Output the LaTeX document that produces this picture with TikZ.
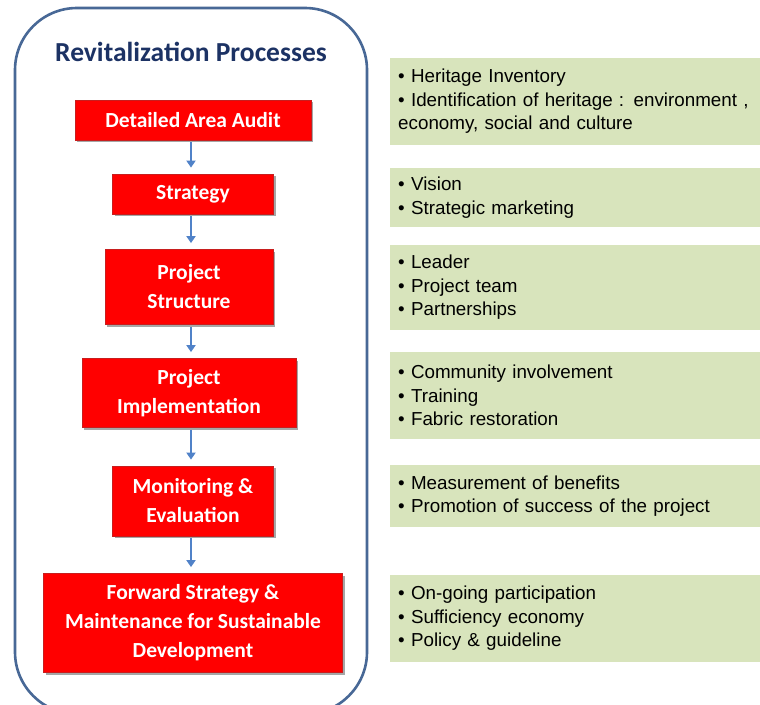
\documentclass[tikz,border=0pt]{standalone}
\usepackage{fontspec}
\setmainfont{Liberation Sans}
\newfontfamily\carlitofont{Carlito}
\usetikzlibrary{arrows.meta,shadows}
\definecolor{framec}{RGB}{72,104,150}
\definecolor{titlec}{RGB}{28,50,100}
\definecolor{redc}{RGB}{255,0,0}
\definecolor{redd}{RGB}{200,30,30}
\definecolor{greenc}{RGB}{216,228,188}
\definecolor{arrowc}{RGB}{80,130,200}
\begin{document}
\begin{tikzpicture}[x=1pt,y=-1pt,
  redbox/.style={draw=redd,line width=0.8pt,fill=redc,text=white,
    font=\carlitofont\bfseries\fontsize{21.5}{29}\selectfont,align=center,inner sep=0pt,
    drop shadow={shadow xshift=2pt,shadow yshift=-2pt,opacity=0.35,fill=black}},
  greenbox/.style={fill=greenc,anchor=west,align=left,text width=360pt,
    inner xsep=8pt,inner ysep=0pt,font=\fontsize{18.8}{23.5}\selectfont,text=black},
  flowarrow/.style={draw=arrowc,line width=2.2pt,shorten <=2pt,shorten >=6pt,
    -{Triangle[length=7pt,width=9pt]}}]
\useasboundingbox (0,0) rectangle (760,704);
\fill[white] (0,0) rectangle (760,704);
\begin{scope}
\clip (0,0) rectangle (760,704);
\draw[framec,line width=2.6pt,rounded corners=62pt] (15,8) rectangle (367,714);
\end{scope}
\coordinate (ax) at (191,0);
\node[font=\carlitofont\bfseries\fontsize{27.5}{30}\selectfont,text=titlec] (title) at (191,52) {Revitalization Processes};
% red boxes
\node[redbox,minimum width=236pt,minimum height=40pt] (b1) at (193,120) {Detailed Area Audit};
\node[redbox,minimum width=161pt,minimum height=40pt] (b2) at (193,194) {Strategy};
\node[redbox,minimum width=168pt,minimum height=75pt] (b3) at (189,287) {Project\\Structure};
\node[redbox,minimum width=214pt,minimum height=69pt] (b4) at (189,393) {Project\\Implementation};
\node[redbox,minimum width=161pt,minimum height=70pt] (b5) at (193,501) {Monitoring \&\\Evaluation};
\node[redbox,minimum width=299pt,minimum height=99pt] (b6) at (193,623) {Forward Strategy \&\\Maintenance for Sustainable\\Development};
% arrows
\draw[flowarrow] (b1.south -| ax) -- (b2.north -| ax);
\draw[flowarrow] (b2.south -| ax) -- (b3.north -| ax);
\draw[flowarrow] (b3.south -| ax) -- (b4.north -| ax);
\draw[flowarrow] (b4.south -| ax) -- (b5.north -| ax);
\draw[flowarrow] (b5.south -| ax) -- (b6.north -| ax);
% green boxes
\node[greenbox,minimum height=87pt] (g1) at (390,101.5) {\textbullet\ Heritage Inventory\\\textbullet\ Identification of heritage : environment ,\\economy, social and culture};
\node[greenbox,minimum height=59pt] (g2) at (390,197.5) {\textbullet\ Vision\\\textbullet\ Strategic marketing};
\node[greenbox,minimum height=85pt] (g3) at (390,287.5) {\textbullet\ Leader\\\textbullet\ Project team\\\textbullet\ Partnerships};
\node[greenbox,minimum height=87pt] (g4) at (390,395.5) {\textbullet\ Community involvement\\\textbullet\ Training\\\textbullet\ Fabric restoration};
\node[greenbox,minimum height=62pt] (g5) at (390,496) {\textbullet\ Measurement of benefits\\\textbullet\ Promotion of success of the project};
\node[greenbox,minimum height=87pt] (g6) at (390,618.5) {\textbullet\ On-going participation\\\textbullet\ Sufficiency economy\\\textbullet\ Policy \& guideline};
\end{tikzpicture}
\end{document}
